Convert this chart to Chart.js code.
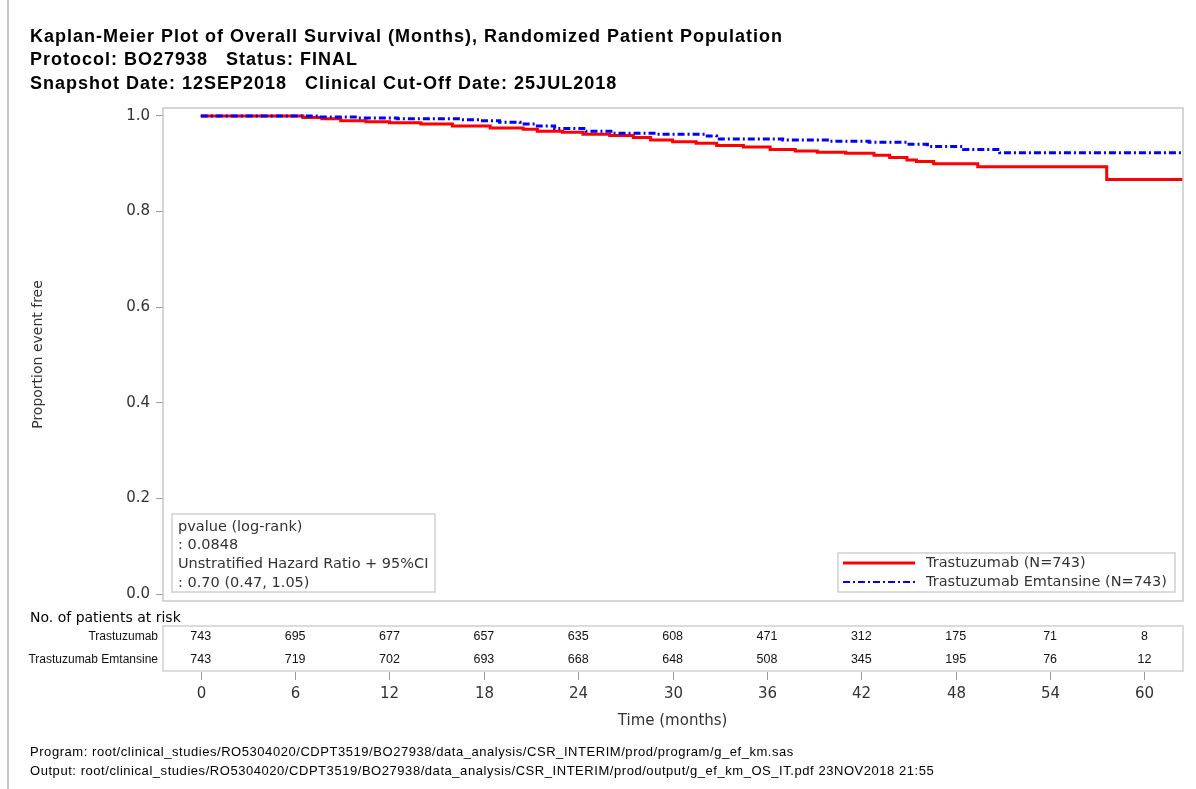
<!DOCTYPE html>
<html>
<head>
<meta charset="utf-8">
<script src="https://cdn.jsdelivr.net/npm/chart.js@4.4.0/dist/chart.umd.min.js"></script>
<style>
  html, body { margin: 0; background: #fff; }
  #wrap { width: 1196px; height: 789px; }
</style>
</head>
<body>
<div id="wrap"><canvas id="km" width="1196" height="789"></canvas></div>
<script>
// ---- chart data ----
const titleLines = [
    'Kaplan-Meier Plot of Overall Survival (Months), Randomized Patient Population',
    'Protocol: BO27938   Status: FINAL',
    'Snapshot Date: 12SEP2018   Clinical Cut-Off Date: 25JUL2018'
];
const footerLines = [
    'Program: root/clinical_studies/RO5304020/CDPT3519/BO27938/data_analysis/CSR_INTERIM/prod/program/g_ef_km.sas',
    'Output: root/clinical_studies/RO5304020/CDPT3519/BO27938/data_analysis/CSR_INTERIM/prod/output/g_ef_km_OS_IT.pdf 23NOV2018 21:55'
];
const statLines = ['pvalue (log-rank)', ': 0.0848', 'Unstratified Hazard Ratio + 95%CI', ': 0.70 (0.47, 1.05)'];

const xTicks = [0, 6, 12, 18, 24, 30, 36, 42, 48, 54, 60];
const yTicks = [0, 0.2, 0.4, 0.6, 0.8, 1.0];

const armNames = ['Trastuzumab', 'Trastuzumab Emtansine'];
const armLegend = ['Trastuzumab (N=743)', 'Trastuzumab Emtansine (N=743)'];

// Kaplan-Meier step points (time in months, proportion event free)
const trastuzumabTimes = [0, 6.5, 7.7, 8.9, 10.5, 12, 14, 16, 18.4, 20.5, 21.4, 23, 24.3, 26, 27.5, 28.6, 30, 31.5, 32.8, 34.5, 36.2, 37.8, 39.2, 41, 42.8, 43.8, 44.9, 45.5, 46.6, 49.4, 57.6, 62.45];
const trastuzumabSurv  = [1.0, 0.997, 0.994, 0.990, 0.988, 0.986, 0.983, 0.979, 0.975, 0.972, 0.968, 0.966, 0.962, 0.959, 0.955, 0.950, 0.946, 0.943, 0.938, 0.935, 0.930, 0.927, 0.924, 0.922, 0.918, 0.913, 0.908, 0.905, 0.900, 0.894, 0.867, 0.867];

const emtansineTimes = [0, 7.5, 10, 12.5, 16.5, 17.8, 19, 20.3, 21.4, 22.5, 24.5, 26.2, 29, 32.2, 32.8, 37, 40, 42.5, 44.9, 46.2, 48.5, 50.8, 62.45];
const emtansineSurv  = [1.0, 0.998, 0.996, 0.994, 0.992, 0.990, 0.987, 0.983, 0.979, 0.974, 0.968, 0.964, 0.962, 0.958, 0.952, 0.950, 0.947, 0.945, 0.941, 0.936, 0.930, 0.923, 0.923];

// number of patients at risk at each xTick
const riskTrastuzumab = [743, 695, 677, 657, 635, 608, 471, 312, 175, 71, 8];
const riskEmtansine   = [743, 719, 702, 693, 668, 648, 508, 345, 195, 76, 12];

const toPoints = (times, surv) => times.map((t, i) => ({ x: t, y: surv[i] }));

const RED = '#ff0000';
const BLUE = '#0000ff';
const BLUE_DASH = [7, 3, 2, 3];
const FRAME = '#c8c8c8';

// draws titles, frame, stats box, legend, risk table and the time axis
const decorations = {
    id: 'decorations',
    beforeDraw(chart) {
        const ctx = chart.ctx;
        ctx.save();
        ctx.fillStyle = '#fff';
        ctx.fillRect(0, 0, chart.width, chart.height);
        // page border on the left
        ctx.strokeStyle = FRAME;
        ctx.lineWidth = 2;
        ctx.beginPath();
        ctx.moveTo(8, 0);
        ctx.lineTo(8, chart.height);
        ctx.stroke();
        ctx.restore();
    },
    afterDraw(chart) {
        const ctx = chart.ctx;
        const area = chart.chartArea;
        const xs = chart.scales.x;
        ctx.save();

        // plot frame
        ctx.strokeStyle = FRAME;
        ctx.lineWidth = 1.5;
        ctx.strokeRect(area.left, area.top, area.right - area.left, area.bottom - area.top);

        // titles
        ctx.fillStyle = '#000';
        ctx.textBaseline = 'middle';
        ctx.textAlign = 'left';
        ctx.font = 'bold 18px "Liberation Sans", Arial, sans-serif';
        ctx.letterSpacing = '1px';
        titleLines.forEach((t, i) => ctx.fillText(t, 30, 37 + i * 23.5));
        ctx.letterSpacing = '0px';

        // stats box
        ctx.strokeStyle = '#d0d0d0';
        ctx.lineWidth = 1.5;
        ctx.fillStyle = '#fff';
        ctx.fillRect(172, 514, 263, 78);
        ctx.strokeRect(172, 514, 263, 78);
        ctx.fillStyle = '#333';
        ctx.font = '14.5px "DejaVu Sans", sans-serif';
        statLines.forEach((t, i) => ctx.fillText(t, 178, 527 + i * 18.7));

        // legend
        ctx.fillStyle = '#fff';
        ctx.fillRect(838, 553, 337, 39);
        ctx.strokeRect(838, 553, 337, 39);
        const legendY = [563, 582];
        const styles = [{ color: RED, dash: [] }, { color: BLUE, dash: BLUE_DASH }];
        styles.forEach((s, i) => {
            ctx.strokeStyle = s.color;
            ctx.lineWidth = i === 0 ? 3 : 2;
            ctx.setLineDash(s.dash);
            ctx.beginPath();
            ctx.moveTo(843, legendY[i]);
            ctx.lineTo(915, legendY[i]);
            ctx.stroke();
        });
        ctx.setLineDash([]);
        ctx.fillStyle = '#333';
        ctx.font = '14.5px "DejaVu Sans", sans-serif';
        armLegend.forEach((t, i) => ctx.fillText(t, 926, legendY[i]));

        // risk table
        ctx.fillStyle = '#000';
        ctx.font = '14px "DejaVu Sans", sans-serif';
        ctx.fillText('No. of patients at risk', 30, 618);
        ctx.strokeStyle = '#d0d0d0';
        ctx.lineWidth = 1.5;
        ctx.strokeRect(area.left, 626, area.right - area.left, 45);

        const rowY = [637, 660];
        ctx.font = '12px "Liberation Sans", Arial, sans-serif';
        ctx.textAlign = 'right';
        ctx.fillStyle = '#111';
        armNames.forEach((n, i) => ctx.fillText(n, 158, rowY[i]));

        ctx.textAlign = 'center';
        ctx.font = '12.5px "Liberation Sans", Arial, sans-serif';
        [riskTrastuzumab, riskEmtansine].forEach((row, r) => {
            row.forEach((n, i) => ctx.fillText(String(n), xs.getPixelForValue(xTicks[i]), rowY[r]));
        });

        // time axis ticks below the table
        ctx.strokeStyle = '#999';
        ctx.lineWidth = 1;
        ctx.fillStyle = '#333';
        ctx.font = '15px "DejaVu Sans", sans-serif';
        xTicks.forEach(t => {
            const px = Math.round(xs.getPixelForValue(t)) + 0.5;
            ctx.beginPath();
            ctx.moveTo(px, 672);
            ctx.lineTo(px, 680);
            ctx.stroke();
            ctx.fillText(String(t), px, 694);
        });
        ctx.fillText('Time (months)', xs.getPixelForValue(30), 721);

        // footer
        ctx.textAlign = 'left';
        ctx.fillStyle = '#000';
        ctx.font = '13px "Liberation Sans", Arial, sans-serif';
        ctx.letterSpacing = '0.55px';
        footerLines.forEach((t, i) => ctx.fillText(t, 30, 752 + i * 19));
        ctx.letterSpacing = '0px';

        ctx.restore();
    }
};

new Chart(document.getElementById('km'), {
    type: 'line',
    data: {
        datasets: [
            {
                label: armLegend[0],
                data: toPoints(trastuzumabTimes, trastuzumabSurv),
                borderColor: RED,
                borderWidth: 3,
                stepped: 'before',
                pointRadius: 0,
                order: 1
            },
            {
                label: armLegend[1],
                data: toPoints(emtansineTimes, emtansineSurv),
                borderColor: BLUE,
                borderWidth: 3,
                borderDash: BLUE_DASH,
                stepped: 'before',
                pointRadius: 0,
                order: 0
            }
        ]
    },
    options: {
        responsive: false,
        animation: false,
        layout: { padding: { left: 0, top: 108, right: 13, bottom: 188 } },
        plugins: { legend: { display: false }, tooltip: { enabled: false } },
        scales: {
            x: {
                type: 'linear',
                min: -2.4,
                max: 62.45,
                display: false
            },
            y: {
                min: -0.0146,
                max: 1.0167,
                afterFit: s => { s.width = 163; },
                afterBuildTicks: s => { s.ticks = yTicks.map(v => ({ value: v })); },
                border: { display: false },
                grid: { drawOnChartArea: false, drawTicks: true, tickLength: 7, tickColor: '#999' },
                ticks: {
                    padding: 6,
                    color: '#333',
                    font: { family: 'DejaVu Sans', size: 15 },
                    callback: v => v.toFixed(1)
                },
                title: {
                    display: true,
                    text: 'Proportion event free',
                    color: '#333',
                    font: { family: 'DejaVu Sans', size: 14 },
                    padding: { top: 30, bottom: 0 }
                }
            }
        }
    },
    plugins: [decorations]
});
</script>
</body>
</html>
